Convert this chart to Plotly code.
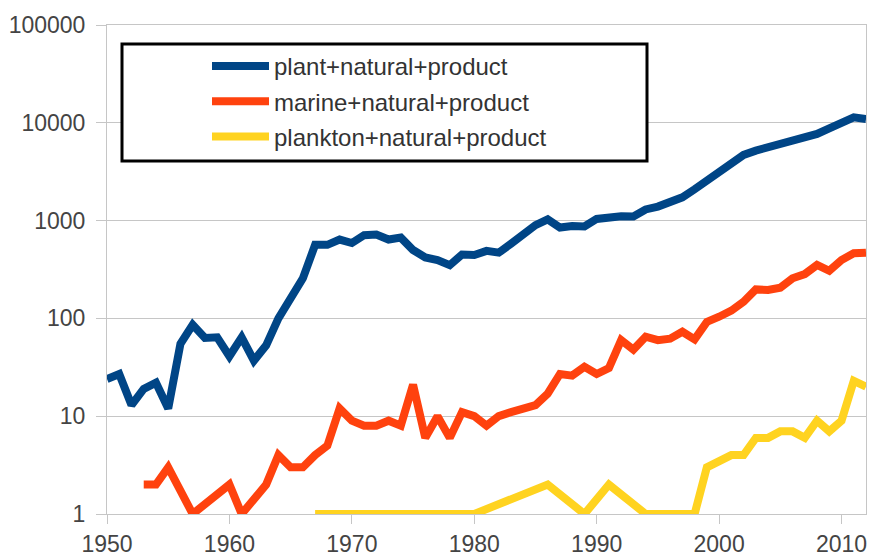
import plotly.graph_objects as go

# ---- data ----
plant_years = list(range(1950, 2013))
plant_values = [24, 27, 13, 19, 22, 12, 55, 86, 63, 64,
                41, 64, 37, 53, 100, 154, 257, 565, 565, 640,
                590, 710, 720, 640, 670, 500, 420, 395, 350, 450,
                445, 490, 470, 580, 740, 900, 1030, 850, 880, 870,
                1040, 1100, 1110, 1100, 1300, 1390, 1520, 1730, 2090, 2560,
                3240, 4000, 4690, 5190, 5610, 6170, 6560, 7080, 7690, 8790,
                10260, 11380, 10930]

marine_years = [1953, 1954, 1955, 1957, 1960, 1961, 1963, 1964, 1965, 1966,
                1967, 1968, 1969, 1970, 1971, 1972, 1973, 1974, 1975, 1976,
                1977, 1978, 1979, 1980, 1981, 1982, 1983, 1984, 1985, 1986,
                1987, 1988, 1989, 1990, 1991, 1992, 1993, 1994, 1995, 1996,
                1997, 1998, 1999, 2000, 2001, 2002, 2003, 2004, 2005, 2006,
                2007, 2008, 2009, 2010, 2011, 2012]
marine_values = [2, 2, 3, 1, 2, 1, 2, 4, 3, 3,
                 4, 5, 12, 9, 8, 8, 9, 8, 21, 6,
                 10, 6, 11, 10, 8, 10, 11, 12, 13, 17,
                 27, 26, 32, 27, 31, 60, 48, 65, 60, 62,
                 73, 61, 92, 104, 120, 148, 198, 195, 206, 257,
                 284, 352, 307, 395, 463, 470]

plankton_years = [1967, 1980, 1986, 1989, 1991, 1994, 1998, 1999, 2001, 2002,
                  2003, 2004, 2005, 2006, 2007, 2008, 2009, 2010, 2011, 2012]
plankton_values = [1, 1, 2, 1, 2, 1, 1, 3, 4, 4,
                   6, 6, 7, 7, 6, 9, 7, 9, 23, 20]

series_names = ["plant+natural+product", "marine+natural+product", "plankton+natural+product"]
series_colors = ["#004586", "#ff420e", "#ffd320"]

y_tickvals = [1, 10, 100, 1000, 10000, 100000]
y_ticktext = ["1", "10", "100", "1000", "10000", "100000"]
x_tickvals = [1950, 1960, 1970, 1980, 1990, 2000, 2010]
x_ticktext = ["1950", "1960", "1970", "1980", "1990", "2000", "2010"]

# ---- geometry (body margin removed via post_script) ----
W, H = 870, 557
ML, MR, MT, MB = 107, 4, 25, 43
PW = W - ML - MR
PH = H - MT - MB


def px_x(page_x):
    return (page_x - ML) / PW


def px_y(page_y):
    return (H - MB - page_y) / PH


# ---- figure ----
fig = go.Figure()
for i, (xs, ys) in enumerate([(plant_years, plant_values),
                              (marine_years, marine_values),
                              (plankton_years, plankton_values)]):
    fig.add_trace(go.Scatter(
        x=xs, y=ys, mode="lines", name=series_names[i],
        legendgroup=f"g{i}",
        line=dict(color=series_colors[i], width=8),
    ))

grid_col = "#c6c6c6"
tick_font = dict(family="Liberation Sans, Arial, sans-serif", size=23, color="#444444")

fig.update_layout(
    width=W, height=H,
    margin=dict(l=ML, r=MR, t=MT, b=MB, pad=0, autoexpand=False),
    paper_bgcolor="white", plot_bgcolor="white",
    font=dict(family="Liberation Sans, Arial, sans-serif", color="#333333"),
    showlegend=True,
    legend=dict(
        x=px_x(207), xanchor="left",
        y=px_y(44), yanchor="top",
        bgcolor="rgba(0,0,0,0)", borderwidth=0,
        font=dict(family="Liberation Sans, Arial, sans-serif", size=24, color="#333333"),
        tracegroupgap=1,
        itemwidth=57,
    ),
    shapes=[dict(
        type="rect", xref="paper", yref="paper", layer="above",
        x0=px_x(122), x1=px_x(647),
        y0=px_y(161), y1=px_y(44),
        line=dict(color="black", width=3), fillcolor="white",
    )],
)

fig.update_xaxes(
    range=[1950, 2012], tickvals=x_tickvals, ticktext=x_ticktext,
    showgrid=False, zeroline=False, automargin=False,
    showline=True, linecolor=grid_col, linewidth=1, mirror=True,
    ticks="outside", ticklen=9, tickcolor=grid_col, tickwidth=1,
    tickfont=tick_font,
)
fig.update_yaxes(
    type="log", range=[0, 5], tickvals=y_tickvals, ticktext=y_ticktext,
    showgrid=True, gridcolor=grid_col, gridwidth=1, zeroline=False, automargin=False,
    showline=True, linecolor=grid_col, linewidth=1, mirror=True,
    ticks="outside", ticklen=10, tickcolor=grid_col, tickwidth=1,
    tickfont=tick_font, ticklabelstandoff=6,
)

fig.write_html(
    "out.html",
    config={"displayModeBar": False},
    post_script="document.body.style.margin='0';document.body.style.overflow='hidden';",
)
